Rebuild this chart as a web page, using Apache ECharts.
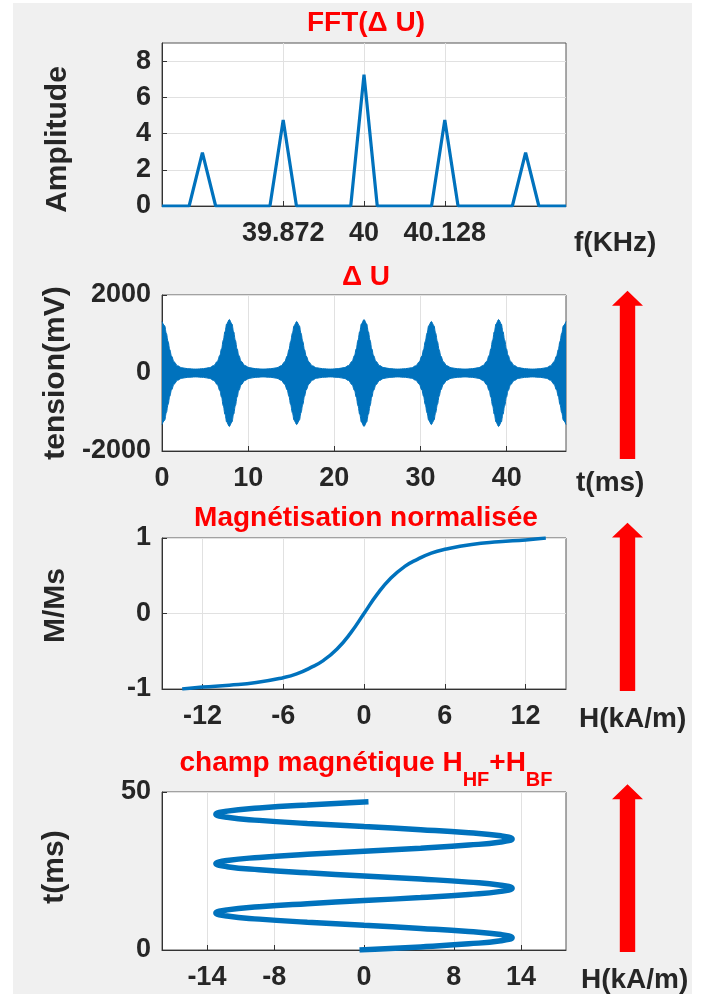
<!DOCTYPE html>
<html>
<head>
<meta charset="utf-8">
<script src="https://cdn.jsdelivr.net/npm/echarts@6.0.0/dist/echarts.min.js"></script>
<style>
html,body{margin:0;padding:0;background:#fff;}
#chart{width:702px;height:994px;}
</style>
</head>
<body>
<div id="chart"></div>
<script>
// ---------- Panel 1 : FFT(ΔU) ----------
const freqKHz = [39.680, 39.701, 39.723, 39.744, 39.765, 39.787, 39.808, 39.829, 39.851, 39.872,
  39.893, 39.915, 39.936, 39.957, 39.979, 40.000, 40.021, 40.043, 40.064, 40.085,
  40.107, 40.128, 40.149, 40.171, 40.192, 40.213, 40.235, 40.256, 40.277, 40.299, 40.320];
const ampFFT = [0, 0, 0, 2.95, 0, 0, 0, 0, 0, 4.75,
  0, 0, 0, 0, 0, 7.25, 0, 0, 0, 0,
  0, 4.75, 0, 0, 0, 0, 0, 2.95, 0, 0, 0];
const fftTicks = [39.872, 40, 40.128];
const ampTicks = [0, 2, 4, 6, 8];

// ---------- Panel 2 : ΔU envelope (mV) ----------
const tU = [
  0, 0.3, 0.5, 0.7, 0.9, 1.1, 1.4, 1.8, 2.3, 3.0, 3.91, 4.81, 5.51, 6.01, 6.41, 6.71, 6.91, 7.11, 7.31, 7.51, 7.81,
  8.11, 8.31, 8.51, 8.71, 8.91, 9.21, 9.61, 10.11, 10.81, 11.72, 12.63, 13.33, 13.83, 14.23, 14.53, 14.73, 14.93, 15.13, 15.33, 15.63,
  15.93, 16.13, 16.33, 16.53, 16.73, 17.03, 17.43, 17.93, 18.63, 19.53, 20.44, 21.14, 21.64, 22.04, 22.34, 22.54, 22.74, 22.94, 23.14, 23.44,
  23.74, 23.94, 24.14, 24.34, 24.54, 24.84, 25.24, 25.74, 26.44, 27.34, 28.25, 28.95, 29.45, 29.85, 30.15, 30.35, 30.55, 30.75, 30.95, 31.25,
  31.55, 31.75, 31.95, 32.15, 32.35, 32.65, 33.05, 33.55, 34.25, 35.16, 36.06, 36.76, 37.26, 37.66, 37.96, 38.16, 38.36, 38.56, 38.76, 39.06,
  39.36, 39.56, 39.76, 39.96, 40.16, 40.46, 40.86, 41.36, 42.06, 42.97, 43.88, 44.58, 45.08, 45.48, 45.78, 45.98, 46.18, 46.38, 46.58, 46.875
];
const uEnvelope = [
  1320, 1215, 1020, 810, 600, 435, 285, 185, 135, 110, 100, 112, 138, 190, 295, 450, 620, 840, 1060, 1260, 1370,
  1260, 1060, 840, 620, 450, 295, 190, 138, 112, 100, 110, 135, 185, 285, 435, 600, 810, 1020, 1215, 1320,
  1215, 1020, 810, 600, 435, 285, 185, 135, 110, 100, 112, 138, 190, 295, 450, 620, 840, 1060, 1260, 1370,
  1260, 1060, 840, 620, 450, 295, 190, 138, 112, 100, 110, 135, 185, 285, 435, 600, 810, 1020, 1215, 1320,
  1215, 1020, 810, 600, 435, 285, 185, 135, 110, 100, 112, 138, 190, 295, 450, 620, 840, 1060, 1260, 1370,
  1260, 1060, 840, 620, 450, 295, 190, 138, 112, 100, 110, 135, 185, 285, 435, 600, 810, 1020, 1215, 1320
];
const tTicks = [0, 10, 20, 30, 40];
const uTicks = [-2000, 0, 2000];

// ---------- Panel 3 : normalised magnetisation ----------
const hField = [-13.5, -12, -10, -8, -6, -5, -4, -3, -2, -1, 0, 1, 2, 3, 4, 5, 6, 8, 10, 12, 13.5];
const mNorm = [-1.0, -0.975, -0.95, -0.915, -0.85, -0.80, -0.72, -0.62, -0.47, -0.26, 0, 0.26, 0.47, 0.62, 0.72, 0.80, 0.85, 0.915, 0.95, 0.975, 1.0];
const hTicks3 = [-12, -6, 0, 6, 12];
const mTicks = [-1, 0, 1];

// ---------- Panel 4 : H_HF + H_BF versus time ----------
const tH = [0, 0.98, 1.95, 2.93, 3.91, 4.88, 5.86, 6.84, 7.81, 8.79, 9.77, 10.74, 11.72, 12.70, 13.67, 14.65,
  15.63, 16.60, 17.58, 18.55, 19.53, 20.51, 21.48, 22.46, 23.44, 24.41, 25.39, 26.37, 27.34, 28.32, 29.30, 30.27,
  31.25, 32.23, 33.20, 34.18, 35.16, 36.13, 37.11, 38.09, 39.06, 40.04, 41.02, 41.99, 42.97, 43.95, 44.92, 45.90, 46.88];
const hTotal = [-0.4, 5.05, 9.33, 12.2, 13.2, 12.2, 9.33, 5.05, 0, -5.05, -9.33, -12.2, -13.2, -12.2, -9.33, -5.05,
  0, 5.05, 9.33, 12.2, 13.2, 12.2, 9.33, 5.05, 0, -5.05, -9.33, -12.2, -13.2, -12.2, -9.33, -5.05,
  0, 5.05, 9.33, 12.2, 13.2, 12.2, 9.33, 5.05, 0, -5.05, -9.33, -12.2, -13.2, -12.2, -9.33, -5.05, 0.4];
const hTicks4 = [-14, -8, 0, 8, 14];
const tTicks4 = [0, 50];

// ---------- styling helpers ----------
const FONT = 'Liberation Sans, Arial, sans-serif';
const TXT = '#262626';
const BLUE = '#0072BD';
const RED = '#ff0000';
const GRIDC = '#e1e1e1';
const plain = v => String(v);

function xAx(idx, min, max, ticks, name, gap, pad) {
  return {
    type: 'value', gridIndex: idx, min: min, max: max,
    name: name, nameLocation: 'end', nameGap: gap,
    nameTextStyle: {color: TXT, fontFamily: FONT, fontWeight: 'bold', fontSize: 28, align: 'left', verticalAlign: 'top', padding: [pad, 0, 0, 0]},
    axisLine: {show: true, onZero: false, lineStyle: {color: '#333', width: 1}},
    axisTick: {show: true, inside: true, length: 5, customValues: ticks, lineStyle: {color: '#333'}},
    axisLabel: {customValues: ticks, formatter: plain, margin: 14, color: TXT, fontFamily: FONT, fontWeight: 'bold', fontSize: 27},
    splitLine: {show: true, lineStyle: {color: GRIDC, width: 1}}
  };
}
function yAx(idx, min, max, ticks, name, gap, namePad) {
  return {
    type: 'value', gridIndex: idx, min: min, max: max,
    name: name, nameLocation: 'middle', nameGap: gap,
    nameTextStyle: {color: TXT, fontFamily: FONT, fontWeight: 'bold', fontSize: 30, padding: namePad},
    axisLine: {show: true, onZero: false, lineStyle: {color: '#333', width: 1}},
    axisTick: {show: true, inside: true, length: 5, customValues: ticks, lineStyle: {color: '#333'}},
    axisLabel: {customValues: ticks, formatter: plain, margin: 11, color: TXT, fontFamily: FONT, fontWeight: 'bold', fontSize: 27},
    splitLine: {show: true, lineStyle: {color: GRIDC, width: 1}}
  };
}
function gridBox(top, height) {
  return {left: 162, right: 136, top: top, height: height, show: true, backgroundColor: '#ffffff', borderColor: '#555', borderWidth: 1, containLabel: false};
}
function arrow(tip, base, bottom) {
  const cx = 627.5;
  return {
    type: 'polygon', z: 10,
    shape: {points: [[cx, tip], [cx + 15.5, base], [cx + 7.7, base], [cx + 7.7, bottom], [cx - 7.7, bottom], [cx - 7.7, base], [cx - 15.5, base]]},
    style: {fill: RED}
  };
}
function titleAt(text, top, extra) {
  return Object.assign({
    text: text, left: 366, top: top, textAlign: 'center', padding: 0,
    textStyle: {color: RED, fontFamily: FONT, fontWeight: 'bold', fontSize: 28}
  }, extra || {});
}

const chart = echarts.init(document.getElementById('chart'), null, {renderer: 'canvas'});
chart.setOption({
  backgroundColor: '#ffffff',
  animation: false,
  graphic: [
    {type: 'rect', z: -10, silent: true, shape: {x: 13, y: 3, width: 679, height: 991}, style: {fill: '#f0f0f0'}},
    arrow(290.7, 305.7, 459),
    arrow(522.7, 537.5, 691),
    arrow(784.3, 799.3, 952)
  ],
  title: [
    titleAt('FFT(\u0394 U)', 9),
    titleAt('\u0394 U', 263),
    titleAt('Magn\u00e9tisation normalis\u00e9e', 504),
    titleAt('{a|champ magn\u00e9tique H}{b|HF}{a|+H}{b|BF}', 749, {
      textStyle: {
        color: RED, fontFamily: FONT, fontWeight: 'bold', fontSize: 28,
        rich: {
          a: {color: RED, fontFamily: FONT, fontWeight: 'bold', fontSize: 28, lineHeight: 28, verticalAlign: 'top'},
          b: {color: RED, fontFamily: FONT, fontWeight: 'bold', fontSize: 20, lineHeight: 20, verticalAlign: 'top', padding: [21, 0, 0, 0]}
        }
      }
    })
  ],
  grid: [gridBox(43, 163), gridBox(295, 156), gridBox(538, 151), gridBox(792, 158)],
  xAxis: [
    xAx(0, 39.68, 40.32, fftTicks, 'f(KHz)', 8, 23),
    xAx(1, 0, 46.875, tTicks, 't(ms)', 10, 18),
    xAx(2, -15, 15, hTicks3, 'H(kA/m)', 13, 16),
    xAx(3, -18, 18, hTicks4, 'H(kA/m)', 15, 16)
  ],
  yAxis: [
    yAx(0, 0, 9, ampTicks, 'Amplitude', 89, [0, 30, 0, 0]),
    yAx(1, -2000, 2000, uTicks, 'tension(mV)', 88, 0),
    yAx(2, -1, 1, mTicks, 'M/Ms', 91, [0, 0, 0, 16]),
    yAx(3, 0, 50, tTicks4, 't(ms)', 92, [0, 0, 0, 8])
  ],
  series: [
    {
      type: 'line', xAxisIndex: 0, yAxisIndex: 0, symbol: 'none',
      lineStyle: {color: BLUE, width: 3.2}, data: freqKHz.map((f, i) => [f, ampFFT[i]])
    },
    {
      type: 'line', xAxisIndex: 1, yAxisIndex: 1, symbol: 'none', smooth: 0.4, smoothMonotone: 'x',
      lineStyle: {color: BLUE, width: 1}, areaStyle: {color: BLUE, opacity: 1, origin: 0},
      data: tU.map((t, i) => [t, uEnvelope[i]])
    },
    {
      type: 'line', xAxisIndex: 1, yAxisIndex: 1, symbol: 'none', smooth: 0.4, smoothMonotone: 'x',
      lineStyle: {color: BLUE, width: 1}, areaStyle: {color: BLUE, opacity: 1, origin: 0},
      data: tU.map((t, i) => [t, -uEnvelope[i]])
    },
    {
      type: 'line', xAxisIndex: 2, yAxisIndex: 2, symbol: 'none', smooth: true,
      lineStyle: {color: BLUE, width: 3.5}, data: hField.map((h, i) => [h, mNorm[i]])
    },
    {
      type: 'line', xAxisIndex: 3, yAxisIndex: 3, symbol: 'none', smooth: true,
      lineStyle: {color: BLUE, width: 5.5}, data: tH.map((t, i) => [hTotal[i], t])
    }
  ]
});
</script>
</body>
</html>
